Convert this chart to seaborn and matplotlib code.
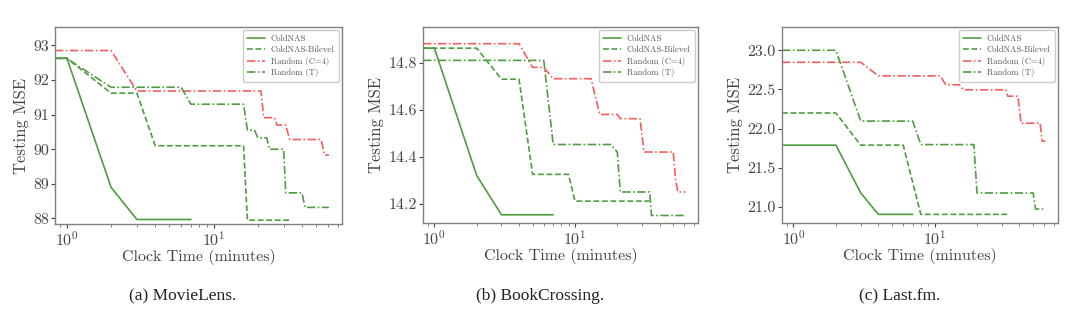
import matplotlib
matplotlib.use("Agg")
import matplotlib.pyplot as plt
import seaborn as sns
import numpy as np
from matplotlib.ticker import FixedLocator, FormatStrFormatter

sns.set_theme(style="ticks")
plt.rcParams['font.family'] = ['cmr10', 'DejaVu Serif']
plt.rcParams['mathtext.fontset'] = 'cm'
plt.rcParams['axes.formatter.use_mathtext'] = True

# ---------------- data ----------------
X0 = 0.83  # series begin at left edge of plot (time ~0)
XLIM = (0.83, 75)

series_names = ["ColdNAS", "ColdNAS-Bilevel", "Random (C=4)", "Random (T)"]
panel_titles = ["(a) MovieLens.", "(b) BookCrossing.", "(c) Last.fm."]

# MovieLens
ml_cold_x = [X0, 1, 2, 3, 7]
ml_cold_y = [92.63, 92.63, 88.9, 87.97, 87.97]
ml_bi_x = [X0, 1, 2, 3, 4, 16, 17, 34]
ml_bi_y = [92.63, 92.63, 91.62, 91.62, 90.1, 90.1, 87.95, 87.95]
ml_rc_x = [X0, 2, 3, 21, 22, 26, 27, 31, 33, 54, 57, 61]
ml_rc_y = [92.85, 92.85, 91.68, 91.68, 90.91, 90.91, 90.7, 90.7, 90.28, 90.28, 89.83, 89.83]
ml_rt_x = [X0, 1, 2, 6, 7, 16, 17, 19, 20, 23, 24, 30, 31, 40, 42, 61]
ml_rt_y = [92.62, 92.62, 91.79, 91.79, 91.3, 91.3, 90.55, 90.55, 90.33, 90.33,
           90.0, 90.0, 88.74, 88.74, 88.32, 88.32]

# BookCrossing
bc_cold_x = [X0, 1, 2, 3, 7]
bc_cold_y = [14.862, 14.862, 14.32, 14.153, 14.153]
bc_bi_x = [X0, 2, 3, 4, 5, 9, 10, 34]
bc_bi_y = [14.862, 14.862, 14.73, 14.73, 14.325, 14.325, 14.211, 14.211]
bc_rc_x = [X0, 4, 5, 6, 7, 13, 15, 20, 21, 29, 31, 50, 52, 54, 61]
bc_rc_y = [14.881, 14.881, 14.78, 14.78, 14.732, 14.732, 14.58, 14.58, 14.562,
           14.562, 14.42, 14.42, 14.3, 14.25, 14.25]
bc_rt_x = [X0, 6, 7, 18, 20, 21, 34, 35, 60]
bc_rt_y = [14.81, 14.81, 14.452, 14.452, 14.42, 14.25, 14.25, 14.15, 14.15]

# Last.fm
lf_cold_x = [X0, 2, 3, 4, 7]
lf_cold_y = [21.79, 21.79, 21.18, 20.907, 20.907]
lf_bi_x = [X0, 2, 3, 6, 8, 34]
lf_bi_y = [22.2, 22.2, 21.79, 21.79, 20.907, 20.907]
lf_rc_x = [X0, 3, 4, 11, 12, 15, 16, 32, 33, 39, 41, 56, 58, 61]
lf_rc_y = [22.847, 22.847, 22.674, 22.674, 22.56, 22.56, 22.496, 22.496, 22.415,
           22.415, 22.07, 22.07, 21.84, 21.84]
lf_rt_x = [X0, 2, 3, 7, 8, 19, 20, 50, 52, 59]
lf_rt_y = [23.0, 23.0, 22.097, 22.097, 21.797, 21.797, 21.18, 21.18, 20.975, 20.975]

panels = [
    [(ml_cold_x, ml_cold_y), (ml_bi_x, ml_bi_y), (ml_rc_x, ml_rc_y), (ml_rt_x, ml_rt_y)],
    [(bc_cold_x, bc_cold_y), (bc_bi_x, bc_bi_y), (bc_rc_x, bc_rc_y), (bc_rt_x, bc_rt_y)],
    [(lf_cold_x, lf_cold_y), (lf_bi_x, lf_bi_y), (lf_rc_x, lf_rc_y), (lf_rt_x, lf_rt_y)],
]
y_limits = [(87.84, 93.53), (14.118, 14.952), (20.797, 23.297)]
y_ticks = [[88, 89, 90, 91, 92, 93], [14.2, 14.4, 14.6, 14.8], [21.0, 21.5, 22.0, 22.5, 23.0]]
y_fmt = ["%d", "%.1f", "%.1f"]

GREEN = "#4f9d40"
RED = "#f25f5c"
styles = [
    dict(color=GREEN, linestyle="-"),
    dict(color=GREEN, linestyle=(0, (3.5, 1.6))),
    dict(color=RED, linestyle=(0, (5, 1.5, 1, 1.5))),
    dict(color=GREEN, linestyle=(0, (5, 1.5, 1, 1.5))),
]

axes_rects = [
    (55 / 1080, 1 - 224 / 315, 287 / 1080, 197 / 315),
    (423 / 1080, 1 - 223 / 315, 275 / 1080, 196 / 315),
    (782 / 1080, 1 - 223 / 315, 276 / 1080, 196 / 315),
]
caption_x = [183 / 1080, 540 / 1080, 900 / 1080]

fig = plt.figure(figsize=(10.8, 3.15), dpi=100)
fig.patch.set_facecolor("white")

for i in range(3):
    ax = fig.add_axes(axes_rects[i])
    ax.set_xscale("log")
    for (xs, ys), name, st in zip(panels[i], series_names, styles):
        sns.lineplot(x=xs, y=ys, ax=ax, label=name, linewidth=1.2,
                     estimator=None, sort=False, **st)
    ax.set_xlim(*XLIM)
    ax.set_ylim(*y_limits[i])
    ax.yaxis.set_major_locator(FixedLocator(y_ticks[i]))
    ax.yaxis.set_major_formatter(FormatStrFormatter(y_fmt[i]))
    ax.set_xlabel("Clock Time (minutes)", fontsize=11.5, color="#444444", labelpad=0)
    ax.set_ylabel("Testing MSE", fontsize=12, color="#444444", labelpad=3)
    ax.tick_params(axis="both", which="major", labelsize=11.5, colors="#444444",
                   length=3, width=0.8, pad=1.5)
    ax.tick_params(axis="x", which="minor", length=2, width=0.6, colors="#666666")
    for sp in ax.spines.values():
        sp.set_color("#808080")
        sp.set_linewidth(1.0)
    ax.set_facecolor("white")
    leg = ax.legend(loc="upper right", fontsize=6.2, frameon=True, fancybox=True,
                    edgecolor="#cccccc", framealpha=1.0, handlelength=2.0,
                    borderpad=0.55, labelspacing=0.3, borderaxespad=0.35,
                    handletextpad=0.7)
    for t in leg.get_texts():
        t.set_color("#555555")
    fig.text(caption_x[i], 1 - 296 / 315, panel_titles[i], ha="center", va="center",
             fontsize=12.5, family="Liberation Serif", color="#222222")

fig.savefig("out.png", dpi=100, facecolor="white")
